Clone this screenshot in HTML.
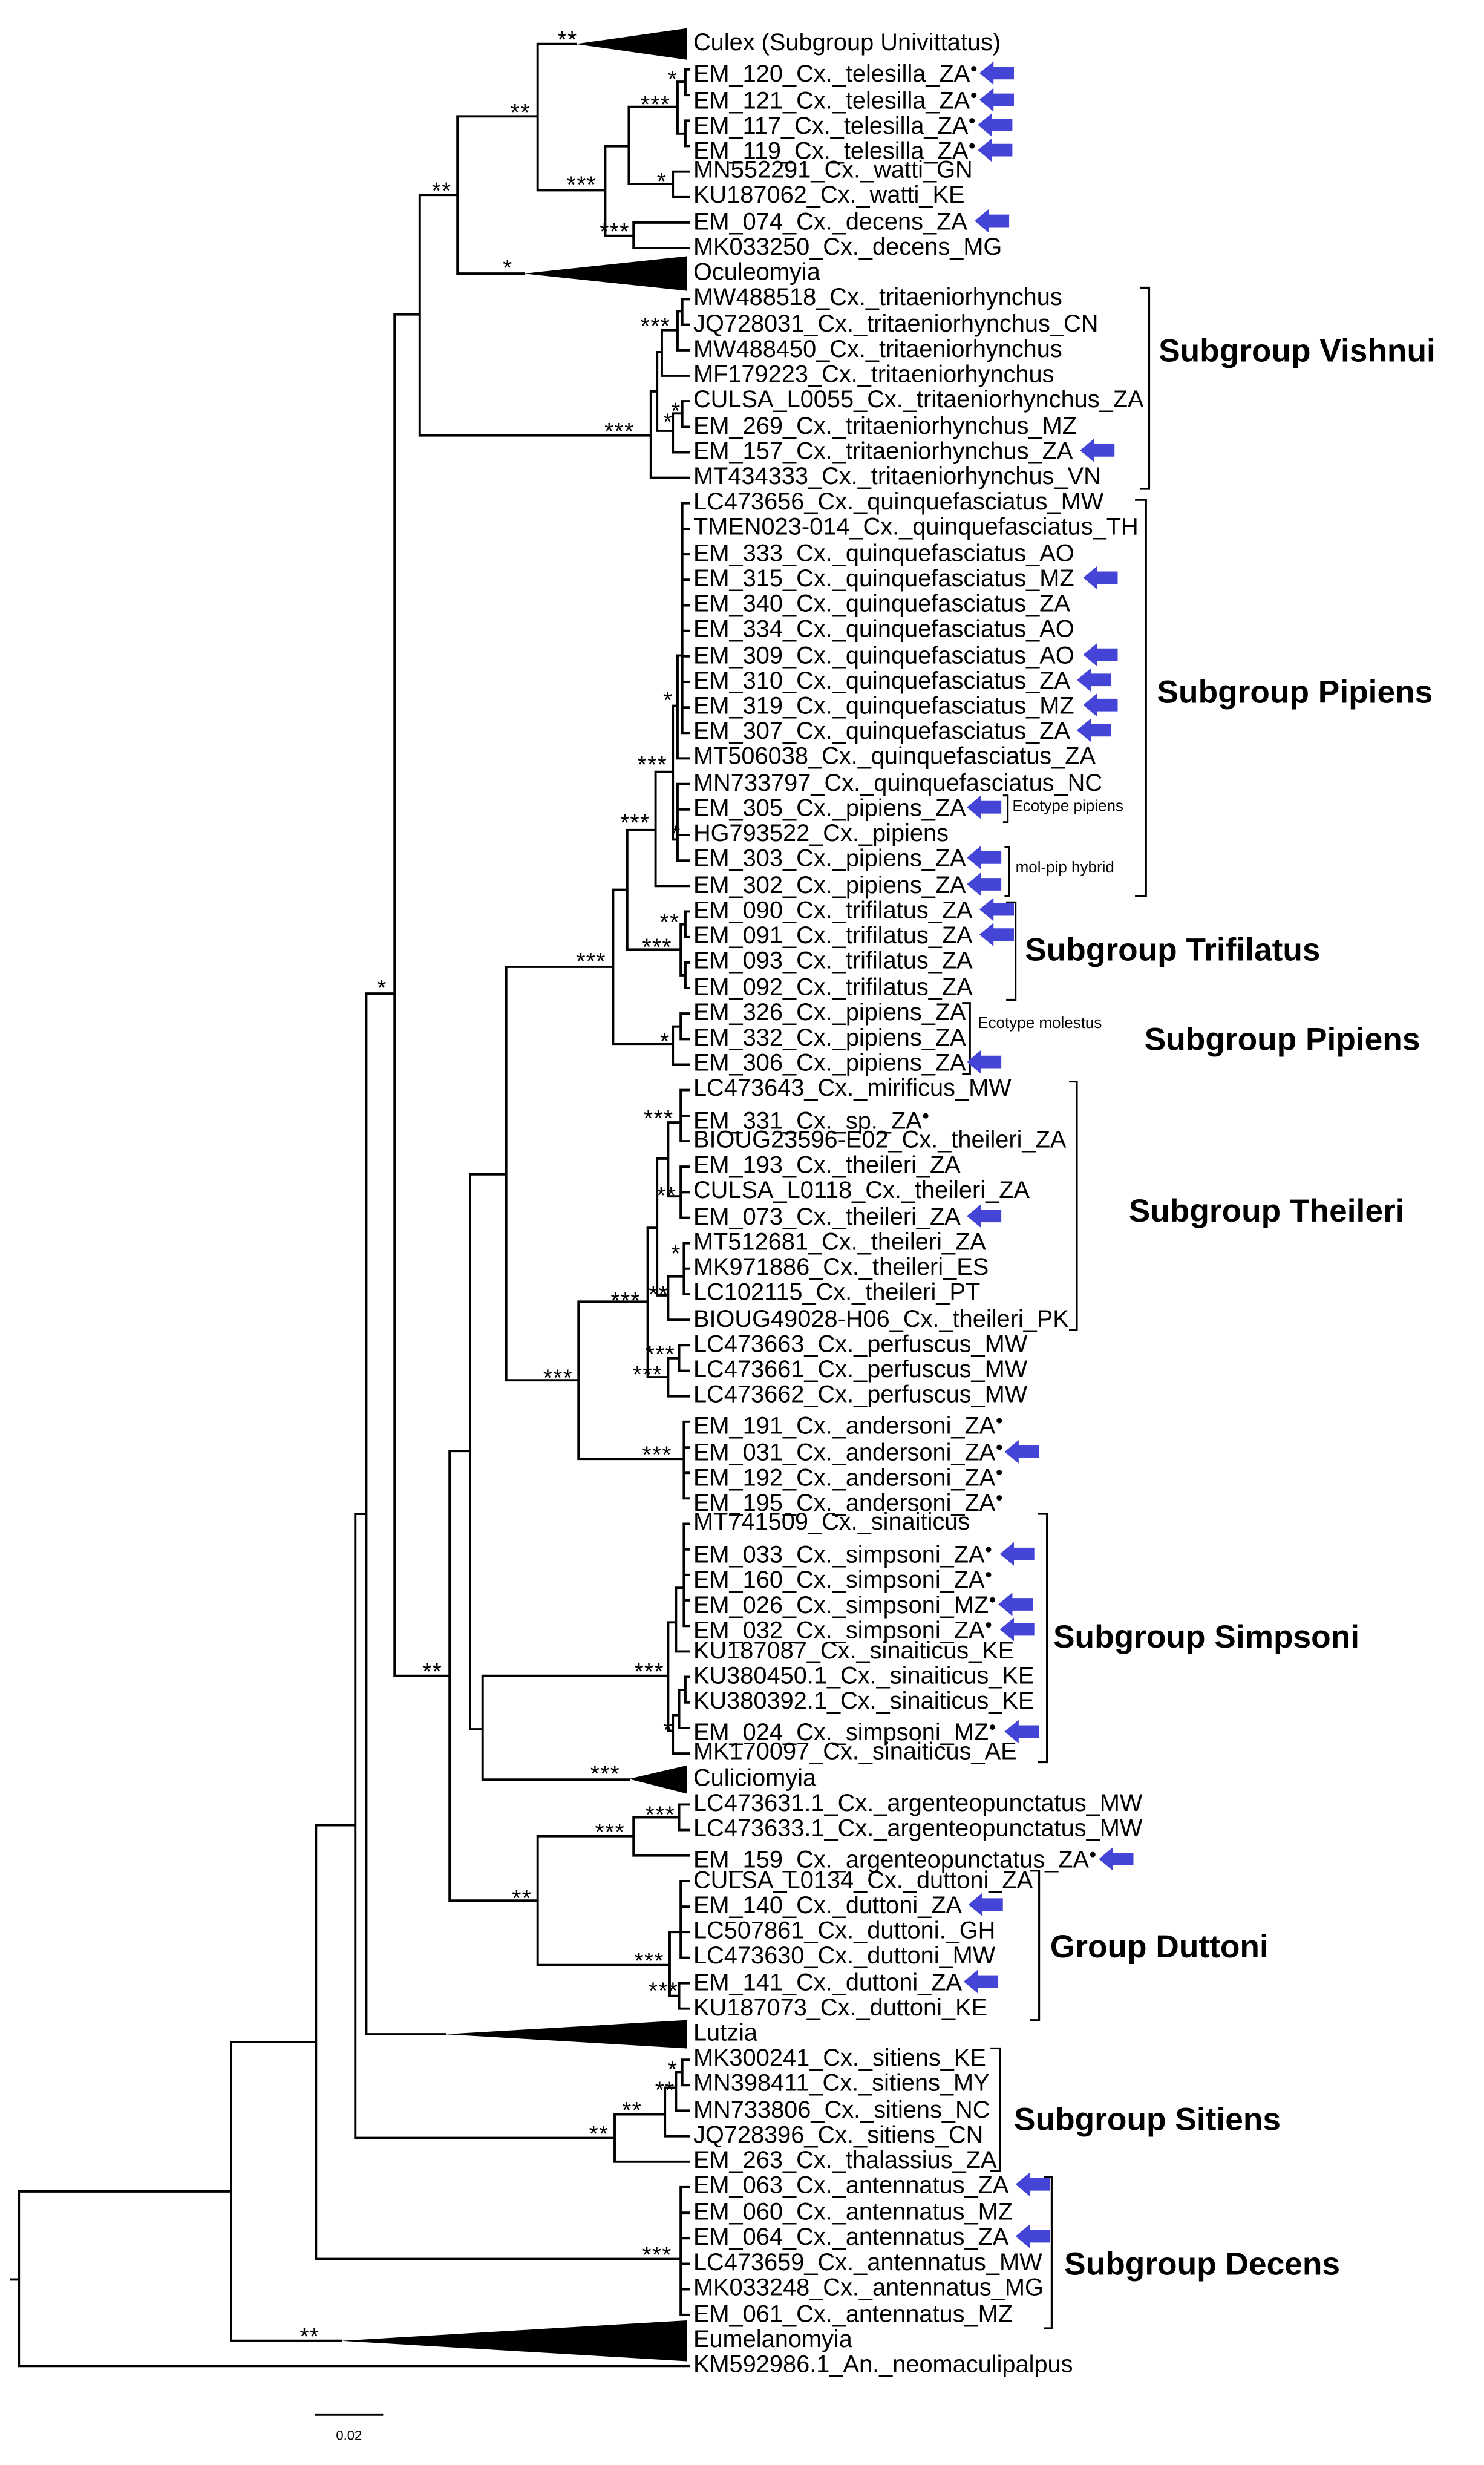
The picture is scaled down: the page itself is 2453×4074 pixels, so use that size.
<!DOCTYPE html>
<html><head><meta charset="utf-8">
<style>
html,body{margin:0;padding:0;background:#fff;}
body{width:2453px;height:4074px;overflow:hidden;position:relative;}
#s{position:absolute;left:0;top:0;width:944px;height:1568px;transform:scale(2.5985,2.5982);transform-origin:0 0;font-family:"Liberation Sans",Arial,sans-serif;}
.l{position:absolute;left:441px;font-size:15.3px;line-height:18px;white-space:nowrap;color:#000;}
.a{display:inline-block;width:22px;height:15px;vertical-align:-2px;margin-left:1px;}
.d{font-size:8px;vertical-align:6px;margin-left:0px;}
.g{position:absolute;font-weight:bold;font-size:20.5px;line-height:24px;white-space:nowrap;}
.e{position:absolute;font-size:10px;line-height:12px;white-space:nowrap;}
svg{position:absolute;left:0;top:0;}
</style></head><body><div id="s">
<svg width="944" height="1568" viewBox="0 0 944 1568">
<defs><symbol id="ar" viewBox="0 0 22 15"><polygon points="0,7.5 9,0 9,3.5 22,3.5 22,11.5 9,11.5 9,15" fill="#4444d6"/></symbol></defs>
<g fill="none" stroke="#000" stroke-width="1.5" stroke-linecap="square">
<path d="M7 1450H12M12 1394V1505M12 1505H438M12 1394H147
M147 1299V1489M147 1489H217M147 1299H201
M201 1161V1437M201 1437H433M433 1391.3V1472.5M433 1391.3H438M433 1407.6H438M433 1423.8H438M433 1440H438M433 1456.2H438M433 1472.5H438
M201 1161H226M226 963V1360M226 1360H391
M391 1345V1375.1M391 1375.1H438M391 1345H423M423 1328V1358.9M423 1358.9H438M423 1328H430M430 1318V1342.6M430 1342.6H438M430 1318H434M434 1310.2V1326.4M434 1310.2H438M434 1326.4H438
M226 963H233M233 632V1294M233 1294H283M233 632H251
M251 200V1066M251 200H267M251 1066H286
M267 124V277M267 124H291M267 277H414
M291 74V174M291 174H333M291 74H342
M342 28V121M342 28H366M342 121H385
M385 93V150M385 93H400M385 150H403
M400 68V117M400 68H431M400 117H428
M431 52V85M431 52H436M431 85H436M436 44.2V60.5M436 76.7V92.9M436 44.2H438M436 60.5H438M436 76.7H438M436 92.9H438
M428 109.2V125.4M428 109.2H438M428 125.4H438
M403 141.6V157.8M403 141.6H438M403 157.8H438
M414 249V303.9M414 303.9H438M414 249H418M418 224V274M418 224H421M418 274H428
M421 210V239M421 239H438M421 210H431M431 198V222.8M431 222.8H438M431 198H434M434 190.3V206.5M434 190.3H438M434 206.5H438
M428 263V287.7M428 287.7H438M428 263H434M434 255.2V271.5M434 255.2H438M434 271.5H438
M286 923V1209M286 923H299M286 1209H342
M299 747V1100M299 747H322M299 1100H307
M322 615V878M322 615H390M322 878H368
M390 566V664M390 566H399M390 664H428
M399 528V604M399 528H417M399 604H433
M417 491V563.6M417 563.6H438M417 491H428
M428 449V534M428 449H431M428 534H431
M431 417V482.4M431 482.4H438M431 417H434M434 320.1V466.2
M434 320.1H438M434 336.4H438M434 352.6H438M434 368.8H438M434 385.1H438M434 401.3H438M434 417.5H438M434 433.8H438M434 450H438M434 466.2H438
M431 498.7V547.4M431 498.7H438M431 514.9H438M431 531.1H438M431 547.4H438
M433 588V620.4M433 588H436M433 620.4H436M436 579.8V596.1M436 612.3V628.5M436 579.8H438M436 596.1H438M436 612.3H438M436 628.5H438
M428 653V677.2M428 677.2H438M428 653H433M433 644.7V661M433 644.7H438M433 661H438
M368 828V928M368 828H412M368 928H435
M435 904.4V953.1M435 904.4H438M435 920.7H438M435 936.9H438M435 953.1H438
M412 781V876M412 781H418M412 876H425
M425 864V888.2M425 888.2H438M425 864H432M432 855.7V872M432 855.7H438M432 872H438
M418 737V824M418 737H425M418 824H425
M425 714V761M425 714H433M425 761H433M433 693.4V725.9M433 693.4H438M433 709.7H438M433 725.9H438M433 742.1V774.6M433 742.1H438M433 758.4H438M433 774.6H438
M425 812V839.5M425 839.5H438M425 812H435M435 790.8V823.3M435 790.8H438M435 807H438M435 823.3H438
M307 1066V1132M307 1066H425M307 1132H400
M425 1032V1101M425 1032H430M425 1101H428
M430 1010V1050.5M430 1050.5H438M430 1010H435M435 969.3V1034.3M435 969.3H438M435 985.6H438M435 1001.8H438M435 1018H438M435 1034.3H438
M428 1091V1115.4M428 1115.4H438M428 1091H432M432 1075V1099.2M432 1099.2H438M432 1075H436M436 1066.7V1083M436 1066.7H438M436 1083H438
M342 1168V1250M342 1168H403M342 1250H426
M403 1156V1180.3M403 1180.3H438M403 1156H432M432 1147.9V1164.1M432 1147.9H438M432 1164.1H438
M426 1229V1269.6M426 1229H433M426 1269.6H432M433 1196.6V1245.3M433 1196.6H438M433 1212.8H438M433 1229H438M433 1245.3H438M432 1261.5V1277.7M432 1261.5H438M432 1277.7H438
M201 1536H243"/>
</g>
<g fill="none" stroke="#000" stroke-width="1.2">
<path d="M725 183H731V311H725M722 318H729V570H722M638 506H641V523H638M639 539H642V570H639M640 574H646V636H640M612 638H617V683H612M680 688H685V846H680M660 963H666V1121H660M655 1190H661V1285H655M630 1303H636V1381H630M664 1385H669V1481H664"/>
</g>
<g fill="#000">
<polygon points="366,28 437,18 437,38"/>
<polygon points="333,174 437,163 437,185"/>
<polygon points="400,1131.6 437,1123 437,1141"/>
<polygon points="283,1294 437,1285 437,1303"/>
<polygon points="217,1489 437,1476 437,1502"/>
</g>
<g font-family="Liberation Sans, Arial, sans-serif" font-size="15" text-anchor="middle" letter-spacing="0.5">
<text x="281" y="126.5">**</text><text x="331" y="76.5">**</text><text x="361" y="30.5">**</text>
<text x="370" y="122.5">***</text><text x="428" y="55.5">*</text><text x="417" y="71.5">***</text>
<text x="421" y="120.5">*</text><text x="391" y="152.5">***</text><text x="323" y="175.5">*</text>
<text x="417" y="212.5">***</text><text x="394" y="279.5">***</text><text x="430" y="266.5">*</text><text x="425" y="273.5">*</text>
<text x="425" y="450.5">*</text><text x="415" y="491.5">***</text><text x="404" y="528.5">***</text><text x="430" y="535.5">*</text>
<text x="426" y="591.5">**</text><text x="418" y="607.5">***</text><text x="376" y="616.5">***</text><text x="423" y="667.5">*</text>
<text x="243" y="633.5">*</text>
<text x="419" y="716.5">***</text><text x="424" y="765.5">**</text><text x="430" y="802.5">*</text>
<text x="398" y="832.5">***</text><text x="419" y="828.5">**</text><text x="420" y="866.5">***</text><text x="412" y="879.5">***</text>
<text x="355" y="881.5">***</text><text x="418" y="930.5">***</text><text x="275" y="1068.5">**</text><text x="413" y="1068.5">***</text>
<text x="425" y="1105.5">*</text><text x="385" y="1133.5">***</text><text x="420" y="1159.5">***</text><text x="388" y="1170.5">***</text>
<text x="332" y="1212.5">**</text><text x="413" y="1252.5">***</text><text x="422" y="1271.5">***</text>
<text x="428" y="1321.5">*</text><text x="423" y="1334.5">**</text><text x="402" y="1347.5">**</text><text x="381" y="1362.5">**</text>
<text x="418" y="1439.5">***</text><text x="197" y="1491.5">**</text>
</g>
<text x="222" y="1552" font-family="Liberation Sans, Arial, sans-serif" font-size="8.5" text-anchor="middle">0.02</text>
</svg>

<div class="l" style="top:19px">Culex (Subgroup Univittatus)</div>
<div class="l" style="top:35.2px">EM_120_Cx._telesilla_ZA<span class="d">●</span><svg class="a" style="position:static"><use href="#ar"/></svg></div>
<div class="l" style="top:51.5px">EM_121_Cx._telesilla_ZA<span class="d">●</span><svg class="a" style="position:static"><use href="#ar"/></svg></div>
<div class="l" style="top:67.7px">EM_117_Cx._telesilla_ZA<span class="d">●</span><svg class="a" style="position:static"><use href="#ar"/></svg></div>
<div class="l" style="top:83.9px">EM_119_Cx._telesilla_ZA<span class="d">●</span><svg class="a" style="position:static"><use href="#ar"/></svg></div>
<div class="l" style="top:100.2px">MN552291_Cx._watti_GN</div>
<div class="l" style="top:116.4px">KU187062_Cx._watti_KE</div>
<div class="l" style="top:132.6px">EM_074_Cx._decens_ZA <svg class="a" style="position:static"><use href="#ar"/></svg></div>
<div class="l" style="top:148.8px">MK033250_Cx._decens_MG</div>
<div class="l" style="top:165.1px">Oculeomyia</div>
<div class="l" style="top:181.3px">MW488518_Cx._tritaeniorhynchus</div>
<div class="l" style="top:197.5px">JQ728031_Cx._tritaeniorhynchus_CN</div>
<div class="l" style="top:213.8px">MW488450_Cx._tritaeniorhynchus</div>
<div class="l" style="top:230px">MF179223_Cx._tritaeniorhynchus</div>
<div class="l" style="top:246.2px">CULSA_L0055_Cx._tritaeniorhynchus_ZA</div>
<div class="l" style="top:262.5px">EM_269_Cx._tritaeniorhynchus_MZ</div>
<div class="l" style="top:278.7px">EM_157_Cx._tritaeniorhynchus_ZA <svg class="a" style="position:static"><use href="#ar"/></svg></div>
<div class="l" style="top:294.9px">MT434333_Cx._tritaeniorhynchus_VN</div>
<div class="l" style="top:311.1px">LC473656_Cx._quinquefasciatus_MW</div>
<div class="l" style="top:327.4px">TMEN023-014_Cx._quinquefasciatus_TH</div>
<div class="l" style="top:343.6px">EM_333_Cx._quinquefasciatus_AO</div>
<div class="l" style="top:359.8px">EM_315_Cx._quinquefasciatus_MZ <svg class="a" style="position:static"><use href="#ar"/></svg></div>
<div class="l" style="top:376.1px">EM_340_Cx._quinquefasciatus_ZA</div>
<div class="l" style="top:392.3px">EM_334_Cx._quinquefasciatus_AO</div>
<div class="l" style="top:408.5px">EM_309_Cx._quinquefasciatus_AO <svg class="a" style="position:static"><use href="#ar"/></svg></div>
<div class="l" style="top:424.8px">EM_310_Cx._quinquefasciatus_ZA <svg class="a" style="position:static"><use href="#ar"/></svg></div>
<div class="l" style="top:441px">EM_319_Cx._quinquefasciatus_MZ <svg class="a" style="position:static"><use href="#ar"/></svg></div>
<div class="l" style="top:457.2px">EM_307_Cx._quinquefasciatus_ZA <svg class="a" style="position:static"><use href="#ar"/></svg></div>
<div class="l" style="top:473.4px">MT506038_Cx._quinquefasciatus_ZA</div>
<div class="l" style="top:489.7px">MN733797_Cx._quinquefasciatus_NC</div>
<div class="l" style="top:505.9px">EM_305_Cx._pipiens_ZA<svg class="a" style="position:static"><use href="#ar"/></svg></div>
<div class="l" style="top:522.1px">HG793522_Cx._pipiens</div>
<div class="l" style="top:538.4px">EM_303_Cx._pipiens_ZA<svg class="a" style="position:static"><use href="#ar"/></svg></div>
<div class="l" style="top:554.6px">EM_302_Cx._pipiens_ZA<svg class="a" style="position:static"><use href="#ar"/></svg></div>
<div class="l" style="top:570.8px">EM_090_Cx._trifilatus_ZA <svg class="a" style="position:static"><use href="#ar"/></svg></div>
<div class="l" style="top:587.1px">EM_091_Cx._trifilatus_ZA <svg class="a" style="position:static"><use href="#ar"/></svg></div>
<div class="l" style="top:603.3px">EM_093_Cx._trifilatus_ZA</div>
<div class="l" style="top:619.5px">EM_092_Cx._trifilatus_ZA</div>
<div class="l" style="top:635.7px">EM_326_Cx._pipiens_ZA</div>
<div class="l" style="top:652px">EM_332_Cx._pipiens_ZA</div>
<div class="l" style="top:668.2px">EM_306_Cx._pipiens_ZA<svg class="a" style="position:static"><use href="#ar"/></svg></div>
<div class="l" style="top:684.4px">LC473643_Cx._mirificus_MW</div>
<div class="l" style="top:700.7px">EM_331_Cx._sp._ZA<span class="d">●</span></div>
<div class="l" style="top:716.9px">BIOUG23596-E02_Cx._theileri_ZA</div>
<div class="l" style="top:733.1px">EM_193_Cx._theileri_ZA</div>
<div class="l" style="top:749.4px">CULSA_L0118_Cx._theileri_ZA</div>
<div class="l" style="top:765.6px">EM_073_Cx._theileri_ZA <svg class="a" style="position:static"><use href="#ar"/></svg></div>
<div class="l" style="top:781.8px">MT512681_Cx._theileri_ZA</div>
<div class="l" style="top:798px">MK971886_Cx._theileri_ES</div>
<div class="l" style="top:814.3px">LC102115_Cx._theileri_PT</div>
<div class="l" style="top:830.5px">BIOUG49028-H06_Cx._theileri_PK</div>
<div class="l" style="top:846.7px">LC473663_Cx._perfuscus_MW</div>
<div class="l" style="top:863px">LC473661_Cx._perfuscus_MW</div>
<div class="l" style="top:879.2px">LC473662_Cx._perfuscus_MW</div>
<div class="l" style="top:895.4px">EM_191_Cx._andersoni_ZA<span class="d">●</span></div>
<div class="l" style="top:911.7px">EM_031_Cx._andersoni_ZA<span class="d">●</span><svg class="a" style="position:static"><use href="#ar"/></svg></div>
<div class="l" style="top:927.9px">EM_192_Cx._andersoni_ZA<span class="d">●</span></div>
<div class="l" style="top:944.1px">EM_195_Cx._andersoni_ZA<span class="d">●</span></div>
<div class="l" style="top:960.3px">MT741509_Cx._sinaiticus</div>
<div class="l" style="top:976.6px">EM_033_Cx._simpsoni_ZA<span class="d">●</span> <svg class="a" style="position:static"><use href="#ar"/></svg></div>
<div class="l" style="top:992.8px">EM_160_Cx._simpsoni_ZA<span class="d">●</span></div>
<div class="l" style="top:1009px">EM_026_Cx._simpsoni_MZ<span class="d">●</span><svg class="a" style="position:static"><use href="#ar"/></svg></div>
<div class="l" style="top:1025.3px">EM_032_Cx._simpsoni_ZA<span class="d">●</span> <svg class="a" style="position:static"><use href="#ar"/></svg></div>
<div class="l" style="top:1041.5px">KU187087_Cx._sinaiticus_KE</div>
<div class="l" style="top:1057.7px">KU380450.1_Cx._sinaiticus_KE</div>
<div class="l" style="top:1074px">KU380392.1_Cx._sinaiticus_KE</div>
<div class="l" style="top:1090.2px">EM_024_Cx._simpsoni_MZ<span class="d">●</span> <svg class="a" style="position:static"><use href="#ar"/></svg></div>
<div class="l" style="top:1106.4px">MK170097_Cx._sinaiticus_AE</div>
<div class="l" style="top:1122.6px">Culiciomyia</div>
<div class="l" style="top:1138.9px">LC473631.1_Cx._argenteopunctatus_MW</div>
<div class="l" style="top:1155.1px">LC473633.1_Cx._argenteopunctatus_MW</div>
<div class="l" style="top:1171.3px">EM_159_Cx._argenteopunctatus_ZA<span class="d">●</span><svg class="a" style="position:static"><use href="#ar"/></svg></div>
<div class="l" style="top:1187.6px">CULSA_L0134_Cx._duttoni_ZA</div>
<div class="l" style="top:1203.8px">EM_140_Cx._duttoni_ZA <svg class="a" style="position:static"><use href="#ar"/></svg></div>
<div class="l" style="top:1220px">LC507861_Cx._duttoni._GH</div>
<div class="l" style="top:1236.3px">LC473630_Cx._duttoni_MW</div>
<div class="l" style="top:1252.5px">EM_141_Cx._duttoni_ZA<svg class="a" style="position:static"><use href="#ar"/></svg></div>
<div class="l" style="top:1268.7px">KU187073_Cx._duttoni_KE</div>
<div class="l" style="top:1284.9px">Lutzia</div>
<div class="l" style="top:1301.2px">MK300241_Cx._sitiens_KE</div>
<div class="l" style="top:1317.4px">MN398411_Cx._sitiens_MY</div>
<div class="l" style="top:1333.6px">MN733806_Cx._sitiens_NC</div>
<div class="l" style="top:1349.9px">JQ728396_Cx._sitiens_CN</div>
<div class="l" style="top:1366.1px">EM_263_Cx._thalassius_ZA</div>
<div class="l" style="top:1382.3px">EM_063_Cx._antennatus_ZA <svg class="a" style="position:static"><use href="#ar"/></svg></div>
<div class="l" style="top:1398.6px">EM_060_Cx._antennatus_MZ</div>
<div class="l" style="top:1414.8px">EM_064_Cx._antennatus_ZA <svg class="a" style="position:static"><use href="#ar"/></svg></div>
<div class="l" style="top:1431px">LC473659_Cx._antennatus_MW</div>
<div class="l" style="top:1447.2px">MK033248_Cx._antennatus_MG</div>
<div class="l" style="top:1463.5px">EM_061_Cx._antennatus_MZ</div>
<div class="l" style="top:1479.7px">Eumelanomyia</div>
<div class="l" style="top:1495.9px">KM592986.1_An._neomaculipalpus</div>

<div class="g" style="left:737px;top:212px">Subgroup Vishnui</div>
<div class="g" style="left:736px;top:429px">Subgroup Pipiens</div>
<div class="g" style="left:652px;top:593px">Subgroup Trifilatus</div>
<div class="g" style="left:728px;top:650px">Subgroup Pipiens</div>
<div class="g" style="left:718px;top:759px">Subgroup Theileri</div>
<div class="g" style="left:670px;top:1030px">Subgroup Simpsoni</div>
<div class="g" style="left:668px;top:1227px">Group Duttoni</div>
<div class="g" style="left:645px;top:1337px">Subgroup Sitiens</div>
<div class="g" style="left:677px;top:1429px">Subgroup Decens</div>
<div class="e" style="left:644px;top:508px">Ecotype pipiens</div>
<div class="e" style="left:646px;top:547px">mol-pip hybrid</div>
<div class="e" style="left:622px;top:646px">Ecotype molestus</div>
</div></body></html>
